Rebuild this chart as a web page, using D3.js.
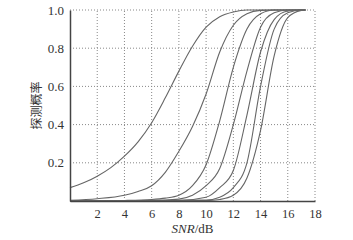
<!DOCTYPE html>
<html>
<head>
<meta charset="utf-8">
<script src="https://cdn.jsdelivr.net/npm/d3@7"></script>
<style>
  body { margin: 0; background: #fff; }
  svg { display: block; }
  .serif text, text.serif { font-family: "Liberation Serif", "Times New Roman", serif; }
</style>
</head>
<body>
<div id="chart"></div>
<script>
const width = 353;
const height = 240;
const margin = {t: 10, b: 39, l: 70, r: 38};

// SNR (dB) values and detection probability for each curve
const curve1 = [[0,0.07],[1,0.095],[2,0.13],[3,0.175],[4,0.235],[5,0.31],[6,0.41],[7,0.54],[8,0.68],[9,0.81],[10,0.91],[11,0.965],[12,0.99],[13,1],[17.3,1]];
const curve2 = [[0,0.004],[2,0.012],[4,0.03],[5,0.05],[6,0.08],[7,0.15],[8,0.26],[9,0.39],[10,0.56],[11,0.78],[12,0.92],[13,0.98],[14,0.998],[15,1],[17.3,1]];
const curve3 = [[0,0],[4,0.003],[6,0.008],[7,0.015],[8,0.03],[9,0.08],[10,0.19],[11,0.42],[12,0.7],[13,0.9],[14,0.98],[15,1],[17.3,1]];
const curve4 = [[0,0],[6,0.002],[8,0.01],[9,0.03],[10,0.08],[11,0.17],[12,0.4],[13,0.68],[14,0.91],[15,0.985],[16,1],[17.3,1]];
const curve5 = [[0,0],[8,0.003],[10,0.02],[11,0.07],[12,0.16],[13,0.45],[14,0.78],[15,0.95],[16,0.995],[17,1],[17.3,1]];
const curve6 = [[0,0],[10,0.005],[11,0.02],[12,0.07],[13,0.2],[14,0.6],[15,0.9],[16,0.985],[17,1],[17.3,1]];
const curve7 = [[0,0],[10,0.002],[11,0.008],[12,0.03],[13,0.12],[14,0.37],[15,0.76],[16,0.96],[17,0.998],[17.3,1]];
const curves = [curve1, curve2, curve3, curve4, curve5, curve6, curve7];

const xTicks = [2, 4, 6, 8, 10, 12, 14, 16, 18];
const yTicks = [0.2, 0.4, 0.6, 0.8, 1.0];

const svg = d3.select("#chart")
    .append("svg")
    .attr("width", width)
    .attr("height", height)
    .attr("viewBox", [0, 0, width, height]);

const xScale = d3.scaleLinear()
    .domain([0, 18])
    .range([margin.l, width - margin.r]);

const yScale = d3.scaleLinear()
    .domain([0, 1])
    .range([height - margin.b, margin.t]);

// grid
svg.append("g")
    .selectAll("line")
    .data(xTicks)
    .join("line")
    .attr("x1", d => xScale(d))
    .attr("x2", d => xScale(d))
    .attr("y1", yScale(0))
    .attr("y2", yScale(1))
    .style("stroke", "#888")
    .style("stroke-width", "1px")
    .style("stroke-dasharray", "1,2");

svg.append("g")
    .selectAll("line")
    .data(yTicks)
    .join("line")
    .attr("x1", xScale(0))
    .attr("x2", xScale(18))
    .attr("y1", d => yScale(d))
    .attr("y2", d => yScale(d))
    .style("stroke", "#888")
    .style("stroke-width", "1px")
    .style("stroke-dasharray", "1,2");

// curves
const line = d3.line()
    .x(d => xScale(d[0]))
    .y(d => yScale(d[1]))
    .curve(d3.curveMonotoneX);

svg.append("g")
    .selectAll("path")
    .data(curves)
    .join("path")
    .attr("d", line)
    .style("fill", "none")
    .style("stroke", "#666")
    .style("stroke-width", "1.1px");

// axes
const xAxis = d3.axisBottom(xScale)
    .tickValues(xTicks)
    .tickSize(0)
    .tickPadding(8)
    .tickFormat(d3.format("d"));
svg.append("g")
    .attr("class", "serif")
    .attr("transform", `translate(0, ${yScale(0)})`)
    .call(xAxis)
    .attr("font-family", null)
    .attr("font-size", 12.5)
    .call(g => g.select(".domain").attr("stroke", "#444").attr("stroke-width", 1.5));

const yAxis = d3.axisLeft(yScale)
    .tickValues(yTicks)
    .tickSize(0)
    .tickPadding(6)
    .tickFormat(d3.format(".1f"));
svg.append("g")
    .attr("class", "serif")
    .attr("transform", `translate(${xScale(0)}, 0)`)
    .call(yAxis)
    .attr("font-family", null)
    .attr("font-size", 13)
    .call(g => g.select(".domain").attr("stroke", "#444").attr("stroke-width", 1.5));

svg.selectAll(".tick text").attr("fill", "#333");

// labels
const xLabel = svg.append("text")
    .attr("class", "serif")
    .attr("x", (xScale(0) + xScale(18)) / 2)
    .attr("y", height - 7)
    .attr("text-anchor", "middle")
    .attr("font-size", "13px")
    .attr("fill", "#333");
xLabel.append("tspan").attr("font-style", "italic").text("SNR");
xLabel.append("tspan").text("/dB");

svg.append("text")
    .attr("transform", `translate(41, ${(yScale(0) + yScale(1)) / 2}) rotate(-90)`)
    .attr("text-anchor", "middle")
    .attr("font-family", "'Noto Sans CJK SC', sans-serif")
    .attr("font-size", "12px")
    .attr("fill", "#333")
    .text("探测概率");
</script>
</body>
</html>
